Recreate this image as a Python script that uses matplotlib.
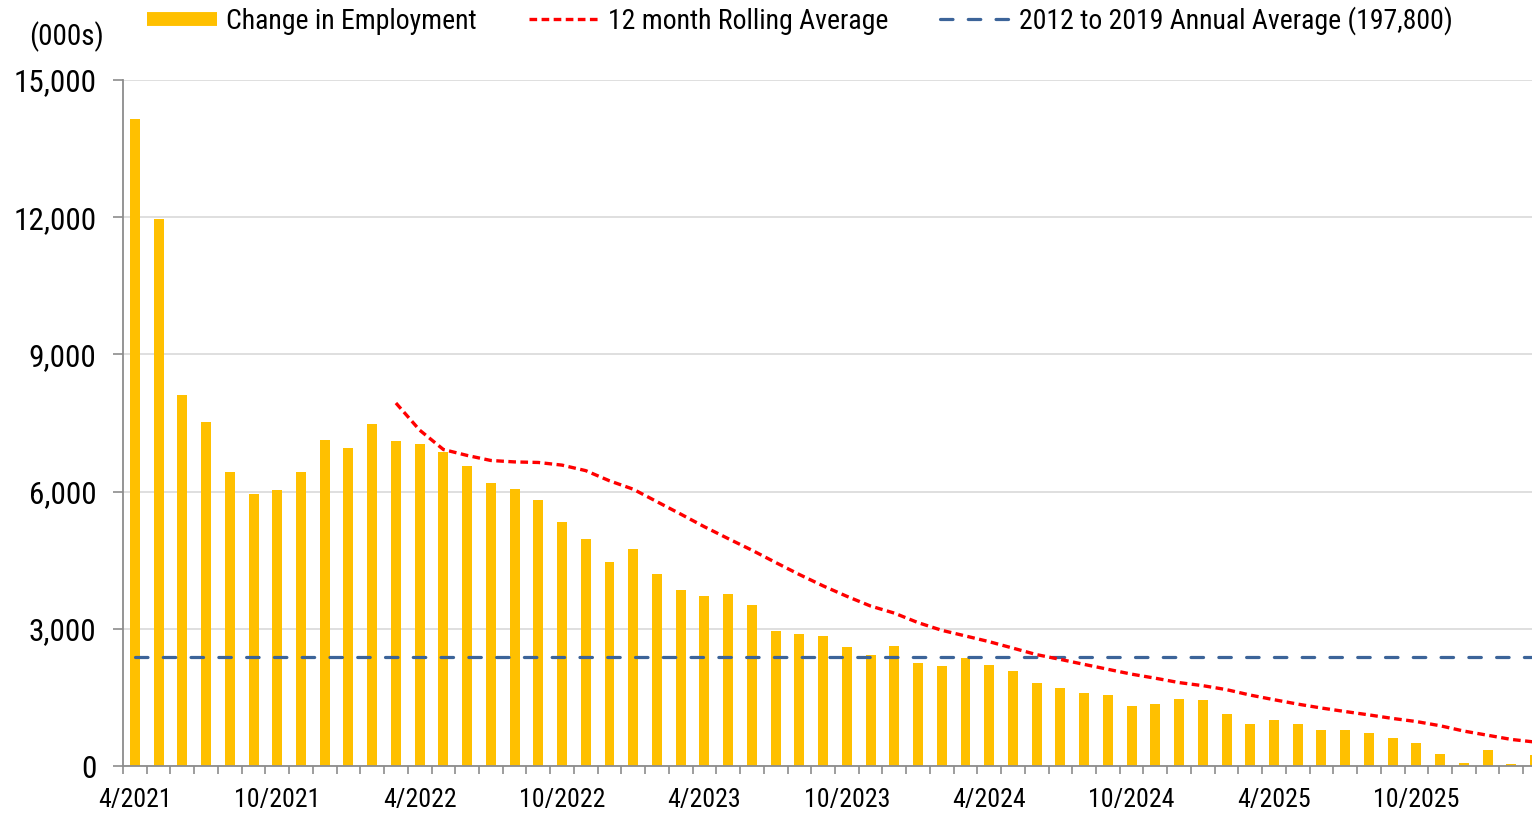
import matplotlib
matplotlib.use("Agg")
import matplotlib.pyplot as plt
from matplotlib.lines import Line2D
from matplotlib import font_manager as fm
import numpy as np
import pandas as pd

# ---------------- data ----------------
months = pd.period_range("2021-04", "2026-03", freq="M")
month_labels = [f"{p.month}/{p.year}" for p in months]

change_in_employment = [
    14150, 11960, 8110, 7515, 6430, 5955, 6035, 6420, 7135, 6955, 7480, 7100,
    7035, 6875, 6555, 6190, 6055, 5810, 5335, 4970, 4470, 4750, 4205, 3840,
    3715, 3770, 3520, 2960, 2895, 2835, 2595, 2420, 2615, 2250, 2190, 2355,
    2215, 2075, 1815, 1705, 1595, 1545, 1320, 1355, 1465, 1445, 1145, 925,
    1005, 920, 785, 785, 715, 610, 505, 260, 65, 350, 45, 235,
]
annual_avg_monthly = 197.8  # thousands per month, 2012-2019
annual_avg_12m = annual_avg_monthly * 12  # cumulative over 12 months (000s)

yticks = [0, 3000, 6000, 9000, 12000, 15000]
ytick_labels = ["0", "3,000", "6,000", "9,000", "12,000", "15,000"]
label_every = 6

series_names = ["Change in Employment", "12 month Rolling Average",
                "2012 to 2019 Annual Average (197,800)"]

# ---------------- fonts ----------------
narrow = None
for cand in ["Liberation Sans Narrow", "Arial Narrow", "Roboto Condensed",
             "Open Sans Condensed", "Noto Sans Condensed", "DejaVu Sans Condensed"]:
    try:
        fm.findfont(fm.FontProperties(family=cand), fallback_to_default=False)
        narrow = cand
        break
    except Exception:
        pass
if narrow is None:
    for f in fm.fontManager.ttflist:
        if ("Narrow" in f.name or "Condensed" in f.name) and "Sans" in f.name:
            narrow = f.name
            break
if narrow is not None:
    FONT = [narrow, "Liberation Sans", "DejaVu Sans"]
    k = 1.0
else:
    FONT = ["Liberation Sans", "DejaVu Sans"]
    k = 0.82
plt.rcParams["font.family"] = FONT
plt.rcParams["lines.scale_dashes"] = False

# ---------------- style ----------------
GOLD = "#FFC000"
RED = "#FF0000"
BLUE = "#3C6499"
GRAY = "#8C8C8C"
GRID = "#D9D9D9"

W, H = 1532, 814
fig = plt.figure(figsize=(W / 100, H / 100), dpi=100)
ax = fig.add_axes([123 / W, (H - 766) / H, (1532 - 123) / W, (766 - 80) / H])

x = np.arange(len(change_in_employment))
s = pd.Series(change_in_employment, dtype=float)
rolling = s.rolling(12).mean()

ax.bar(x, change_in_employment, width=0.42, color=GOLD, zorder=2)
ax.plot(x, rolling, color=RED, lw=2.4, dashes=(5.5, 3.2), zorder=4,
        solid_capstyle="butt", dash_capstyle="butt")
ax.plot(x, [annual_avg_12m] * len(x), color=BLUE, lw=2.3, dashes=(9.0, 11.0),
        dash_capstyle="round", zorder=3)

ax.set_yticks(yticks)
ax.set_yticklabels(ytick_labels)
ax.yaxis.grid(True, color=GRID, lw=1.2, zorder=0)
ax.set_axisbelow(True)
ax.tick_params(axis="y", length=7.2, width=1.2, color=GRAY, pad=12,
               labelsize=22.5 * k, labelcolor="black")

major = x[::label_every]
ax.set_xticks(major)
ax.set_xticklabels([month_labels[i] for i in major])
ax.set_xticks(np.arange(-0.5, len(x) + 0.5, 1.0), minor=True)
ax.tick_params(axis="x", which="major", length=0, pad=15.5, labelsize=18.6 * k,
               labelcolor="black")
ax.tick_params(axis="x", which="minor", length=5.8, width=1.2, color=GRAY)

# limits after ticks so tick setting does not widen the view
ax.set_xlim(-0.5, (1532 - 135) / 23.73)
ax.set_ylim(0, 15000)

for side in ("top", "right"):
    ax.spines[side].set_visible(False)
for side in ("left", "bottom"):
    ax.spines[side].set_color(GRAY)
    ax.spines[side].set_linewidth(1.3)

fig.text(104 / W, 1 - 37 / H, "(000s)", ha="right", va="center", fontsize=21 * k)

handles = [
    Line2D([0], [0], color=GOLD, lw=10, solid_capstyle="butt"),
    Line2D([0], [0], color=RED, lw=2.4, dashes=(5.5, 3.2)),
    Line2D([0], [0], color=BLUE, lw=2.3, dashes=(9.0, 11.0), dash_capstyle="round"),
]
lfs = 20.0 * k
px = lfs * 100 / 72
fig.legend(handles, series_names, loc="center left",
           bbox_to_anchor=(147 / W, 1 - 21 / H), ncol=3, frameon=False,
           fontsize=lfs, handlelength=70 / px,
           handletextpad=9 / px,
           columnspacing=52 / px, borderpad=0, borderaxespad=0)

fig.savefig("out.png", dpi=100)
